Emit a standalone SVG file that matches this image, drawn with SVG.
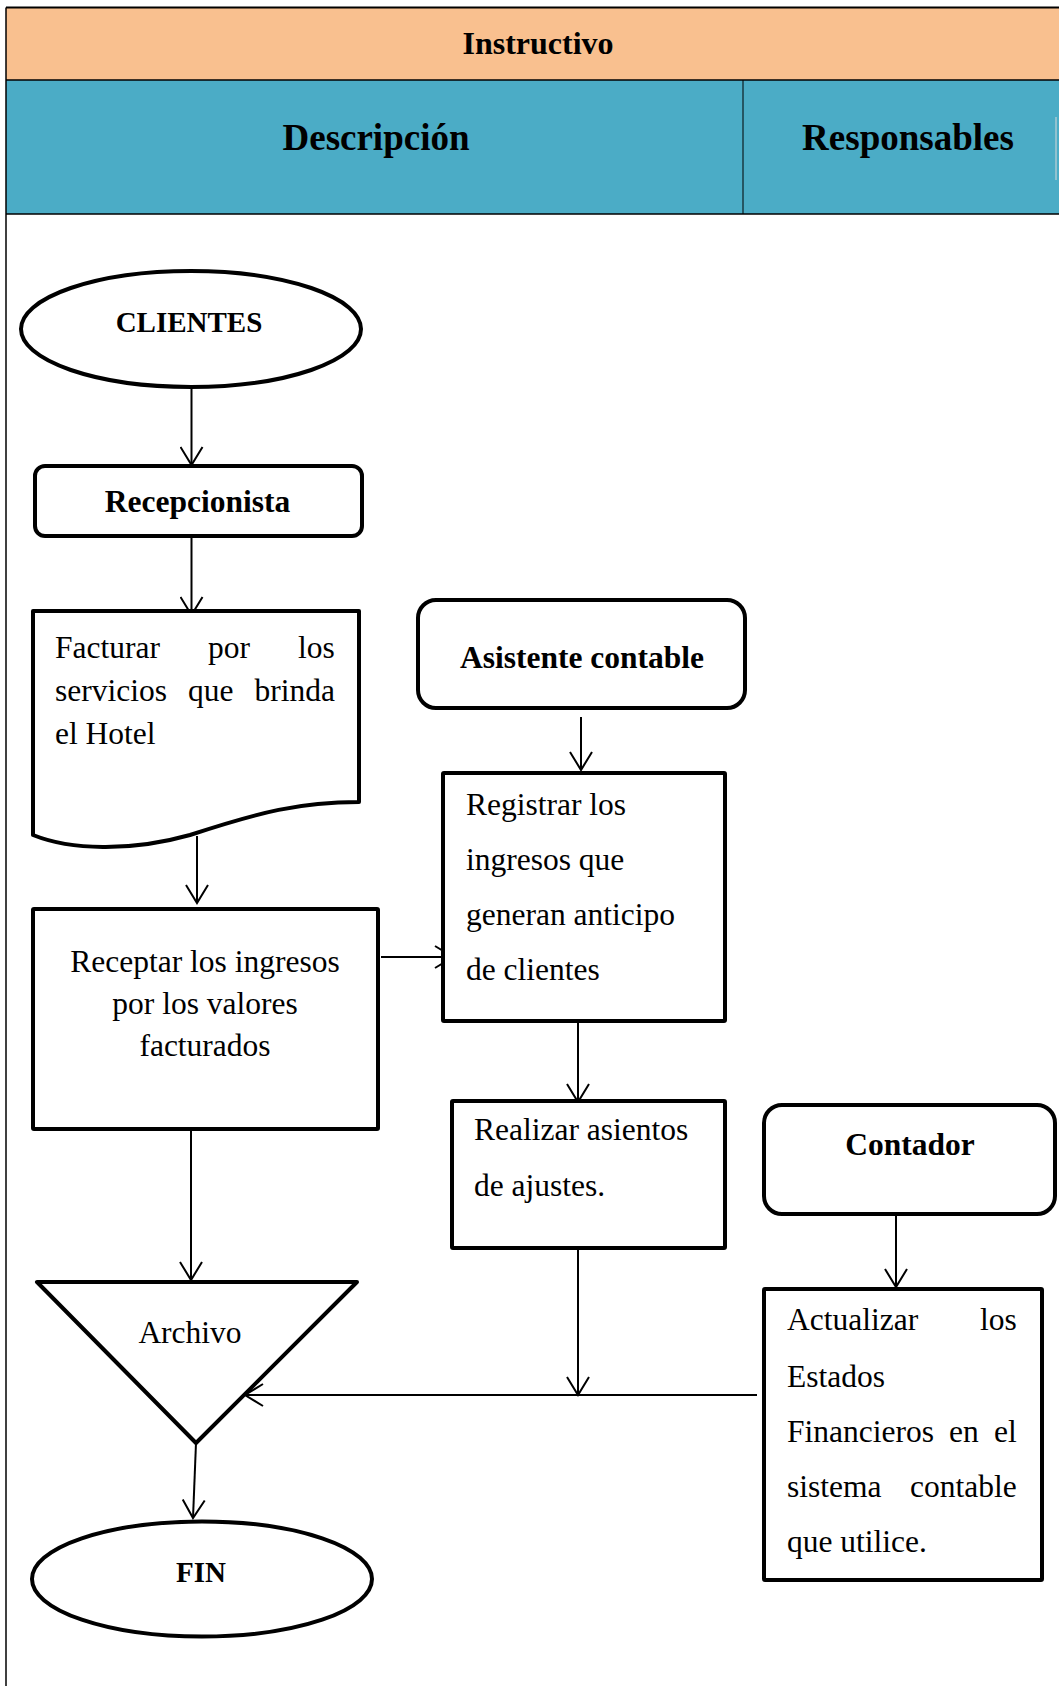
<svg xmlns="http://www.w3.org/2000/svg" width="1059" height="1686" viewBox="0 0 1059 1686">
<style>
.hdr{font-family:"Liberation Serif","Times New Roman",serif;font-weight:bold;fill:#000}
.t{font-family:"Liberation Serif","Times New Roman",serif;font-size:31.5px;fill:#000}
.b{font-family:"Liberation Serif","Times New Roman",serif;font-size:31.5px;font-weight:bold;fill:#000}
.bs{font-family:"Liberation Serif","Times New Roman",serif;font-size:29px;font-weight:bold;fill:#000}
.shape{fill:#fff;stroke:#000;stroke-width:4;stroke-linejoin:round}
.conn{fill:none;stroke:#000;stroke-width:2;marker-end:url(#arr)}
</style>
<defs>
<marker id="arr" markerUnits="userSpaceOnUse" viewBox="0 0 22 24" refX="20" refY="12" markerWidth="22" markerHeight="24" orient="auto">
<path d="M2,1 L20,12 L2,23" fill="none" stroke="#000" stroke-width="2"/>
</marker>
</defs>
<rect width="1059" height="1686" fill="#fff"/>
<g id="header">
<rect x="6" y="7.5" width="1053" height="72.5" fill="#F9C08F"/>
<rect x="6" y="80" width="1053" height="134" fill="#4BACC6"/>
<line x1="6" y1="7.5" x2="1059" y2="7.5" stroke="#000" stroke-width="2"/>
<line x1="6" y1="80" x2="1059" y2="80" stroke="#000" stroke-width="1.5"/>
<line x1="6" y1="214" x2="1059" y2="214" stroke="#000" stroke-width="1.5"/>
<line x1="743" y1="80" x2="743" y2="214" stroke="#000" stroke-width="1"/>
<line x1="1056" y1="117" x2="1056" y2="180" stroke="#d8d8d8" stroke-width="1"/>
<line x1="6" y1="7.5" x2="6" y2="1686" stroke="#000" stroke-width="1.5"/>
<text class="hdr" x="538" y="54" font-size="32" text-anchor="middle">Instructivo</text>
<text class="hdr" x="376" y="150" font-size="37" text-anchor="middle">Descripción</text>
<text class="hdr" x="908" y="150" font-size="37" text-anchor="middle">Responsables</text>
</g>
<g id="connectors">
<line class="conn" x1="191.5" y1="387" x2="191.5" y2="465"/>
<line class="conn" x1="191.5" y1="536" x2="191.5" y2="615"/>
<line class="conn" x1="197" y1="836" x2="197" y2="903"/>
<line class="conn" x1="381" y1="957" x2="453" y2="957"/>
<line class="conn" x1="581" y1="717" x2="581" y2="770"/>
<line class="conn" x1="578" y1="1021" x2="578" y2="1102"/>
<line class="conn" x1="191" y1="1129" x2="191" y2="1280"/>
<line class="conn" x1="578" y1="1248" x2="578" y2="1395"/>
<line class="conn" x1="757" y1="1395" x2="245" y2="1395"/>
<line class="conn" x1="896" y1="1211" x2="896" y2="1287"/>
<line class="conn" x1="196" y1="1443" x2="193" y2="1518"/>
</g>
<g id="clientes">
<ellipse class="shape" cx="191" cy="329" rx="170" ry="58"/>
<text class="bs" x="189" y="332" text-anchor="middle">CLIENTES</text>
</g>
<g id="recepcionista">
<rect class="shape" x="35" y="466" width="327" height="70" rx="10"/>
<text class="b" x="197.5" y="512" text-anchor="middle">Recepcionista</text>
</g>
<g id="facturar">
<path class="shape" d="M33,611 H359 V802 C300,802 260,812 190,835 C130,852 70,850 33,835 Z"/>
<text class="t" y="658"><tspan x="55">Facturar</tspan><tspan x="208">por</tspan><tspan x="298">los</tspan></text>
<text class="t" y="701"><tspan x="55">servicios</tspan><tspan x="188">que</tspan><tspan x="254.5">brinda</tspan></text>
<text class="t" x="55" y="744">el Hotel</text>
</g>
<g id="receptar">
<rect class="shape" x="33" y="909" width="345" height="220" rx="1"/>
<text class="t" x="205" y="972" text-anchor="middle">Receptar los ingresos</text>
<text class="t" x="205" y="1014" text-anchor="middle">por los valores</text>
<text class="t" x="205" y="1056" text-anchor="middle">facturados</text>
</g>
<g id="asistente">
<rect class="shape" x="418" y="600" width="327" height="108" rx="18"/>
<text class="b" x="582" y="668" text-anchor="middle">Asistente contable</text>
</g>
<g id="registrar">
<rect class="shape" x="443" y="773" width="282" height="248" rx="1"/>
<text class="t" x="466" y="815">Registrar los</text>
<text class="t" x="466" y="870">ingresos que</text>
<text class="t" x="466" y="925">generan anticipo</text>
<text class="t" x="466" y="980">de clientes</text>
</g>
<g id="realizar">
<rect class="shape" x="452" y="1101" width="273" height="147" rx="1"/>
<text class="t" x="474" y="1140">Realizar asientos</text>
<text class="t" x="474" y="1196">de ajustes.</text>
</g>
<g id="contador">
<rect class="shape" x="764" y="1105" width="291" height="109" rx="18"/>
<text class="b" x="910" y="1155" text-anchor="middle">Contador</text>
</g>
<g id="actualizar">
<rect class="shape" x="764" y="1289" width="278" height="291" rx="1"/>
<text class="t" y="1330"><tspan x="787">Actualizar</tspan><tspan x="980">los</tspan></text>
<text class="t" x="787" y="1387">Estados</text>
<text class="t" y="1442"><tspan x="787">Financieros</tspan><tspan x="949">en</tspan><tspan x="994">el</tspan></text>
<text class="t" y="1497"><tspan x="787">sistema</tspan><tspan x="910">contable</tspan></text>
<text class="t" x="787" y="1552">que utilice.</text>
</g>
<g id="archivo">
<path class="shape" d="M37,1282 H357 L196,1443 Z"/>
<text class="t" x="190" y="1343" text-anchor="middle">Archivo</text>
</g>
<g id="fin">
<ellipse class="shape" cx="202" cy="1579" rx="170" ry="57.5"/>
<text class="bs" x="201" y="1582" text-anchor="middle">FIN</text>
</g>
</svg>
